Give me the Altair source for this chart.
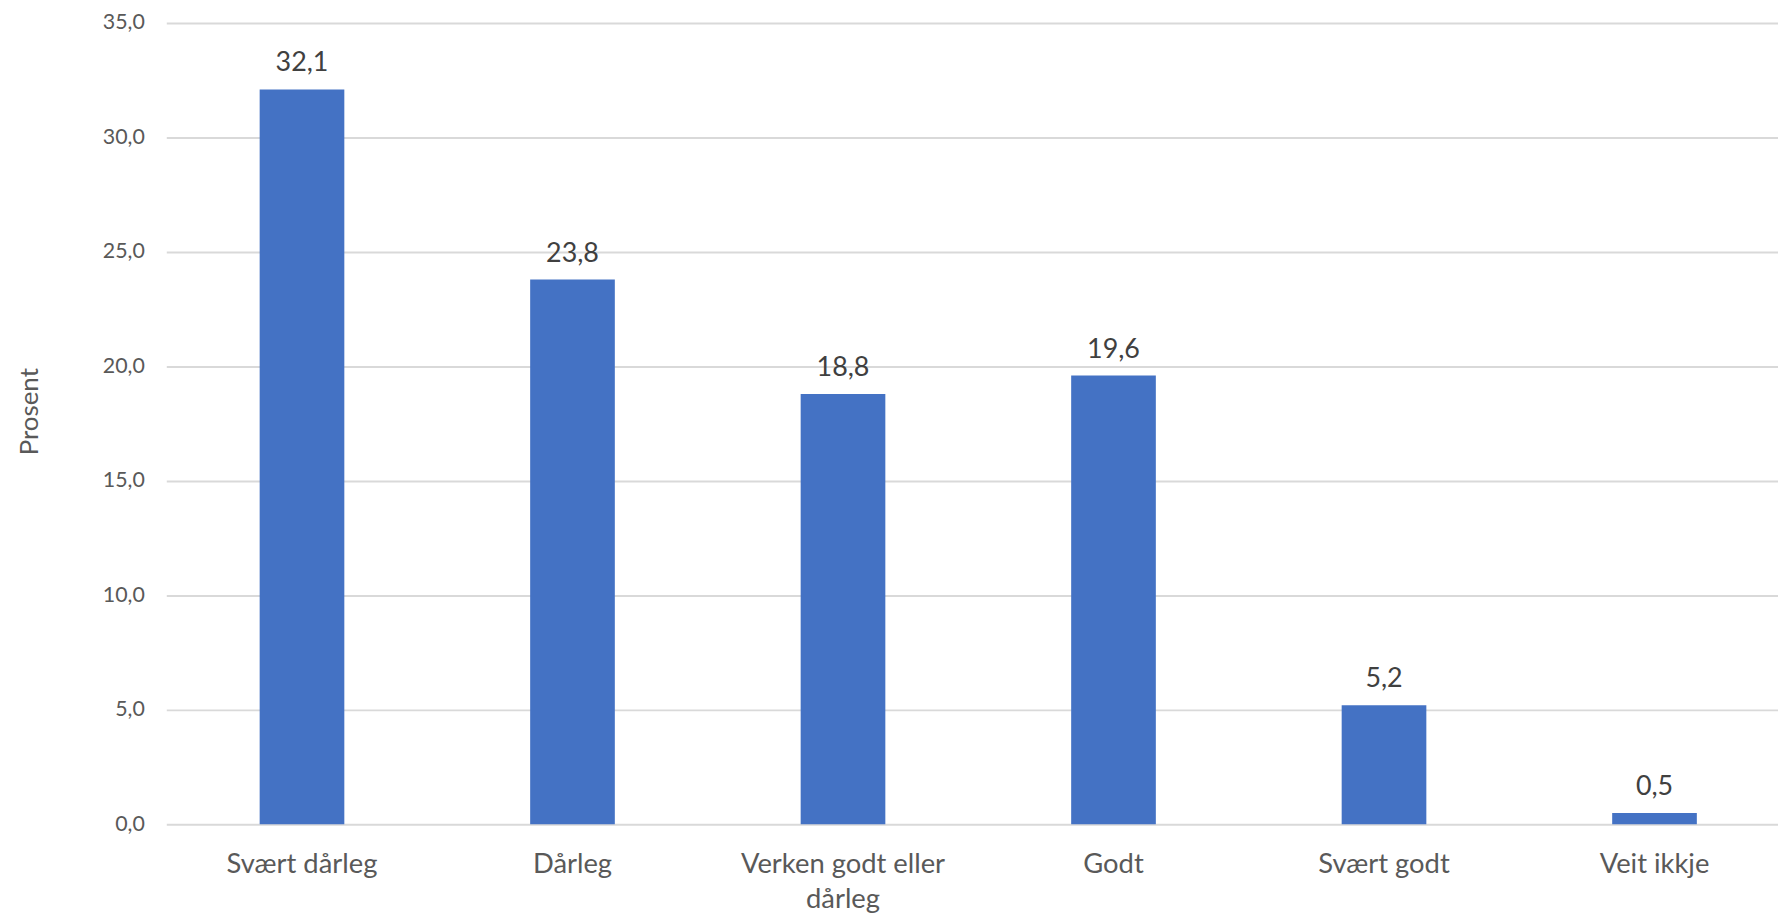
import altair as alt
import pandas as pd

categories = ["Svært dårleg", "Dårleg", "Verken godt eller dårleg", "Godt", "Svært godt", "Veit ikkje"]
values = [32.1, 23.8, 18.8, 19.6, 5.2, 0.5]
y_ticks = [0, 5, 10, 15, 20, 25, 30, 35]

df = pd.DataFrame({"kat": categories, "pst": values})

FONT = "Lato"

x_enc = alt.X(
    "kat:N",
    sort=categories,
    title=None,
    scale=alt.Scale(paddingInner=0.687, paddingOuter=0.3226, align=0.535, round=False),
    axis=alt.Axis(
        domain=False,
        ticks=False,
        labelAngle=0,
        labelFont=FONT,
        labelFontSize=27.5,
        labelColor="#595959",
        labelBaseline="alphabetic",
        labelPadding=48,
        labelLineHeight=36,
        labelLimit=0,
        labelExpr="datum.label == 'Verken godt eller dårleg' ? ['Verken godt eller', 'dårleg'] : datum.label",
    ),
)

y_enc = alt.Y(
    "pst:Q",
    scale=alt.Scale(domain=[0, 35], nice=False),
    title="Prosent",
    axis=alt.Axis(
        values=y_ticks,
        domain=False,
        ticks=False,
        grid=True,
        gridColor="#D9D9D9",
        gridWidth=2,
        labelFont=FONT,
        labelFontSize=21.5,
        labelColor="#595959",
        labelPadding=22,
        labelExpr="replace(format(datum.value, '.1f'), '.', ',')",
        titleFont=FONT,
        titleFontSize=26,
        titleFontWeight="normal",
        titleColor="#595959",
        titleAngle=270,
        titleBaseline="alphabetic",
        titleAlign="center",
        titleX=-129,
        titleY=390,
    ),
)

bars = alt.Chart(df).mark_bar(color="#4472C4").encode(x=x_enc, y=y_enc)

labels = (
    alt.Chart(df)
    .transform_calculate(lbl="replace(format(datum.pst, '.1f'), '.', ',')")
    .mark_text(font=FONT, fontSize=27, color="#404040", baseline="alphabetic", dy=-18)
    .encode(x=alt.X("kat:N", sort=categories), y="pst:Q", text="lbl:N")
)

chart = (
    alt.layer(bars, labels)
    .properties(
        width=1619,
        height=805,
        autosize=alt.AutoSizeParams(type="none"),
        padding={"left": 159, "top": 13, "right": 0, "bottom": 88},
    )
    .configure_view(stroke=None)
)

chart.save("out.html", embed_options={"renderer": "svg", "actions": False})
